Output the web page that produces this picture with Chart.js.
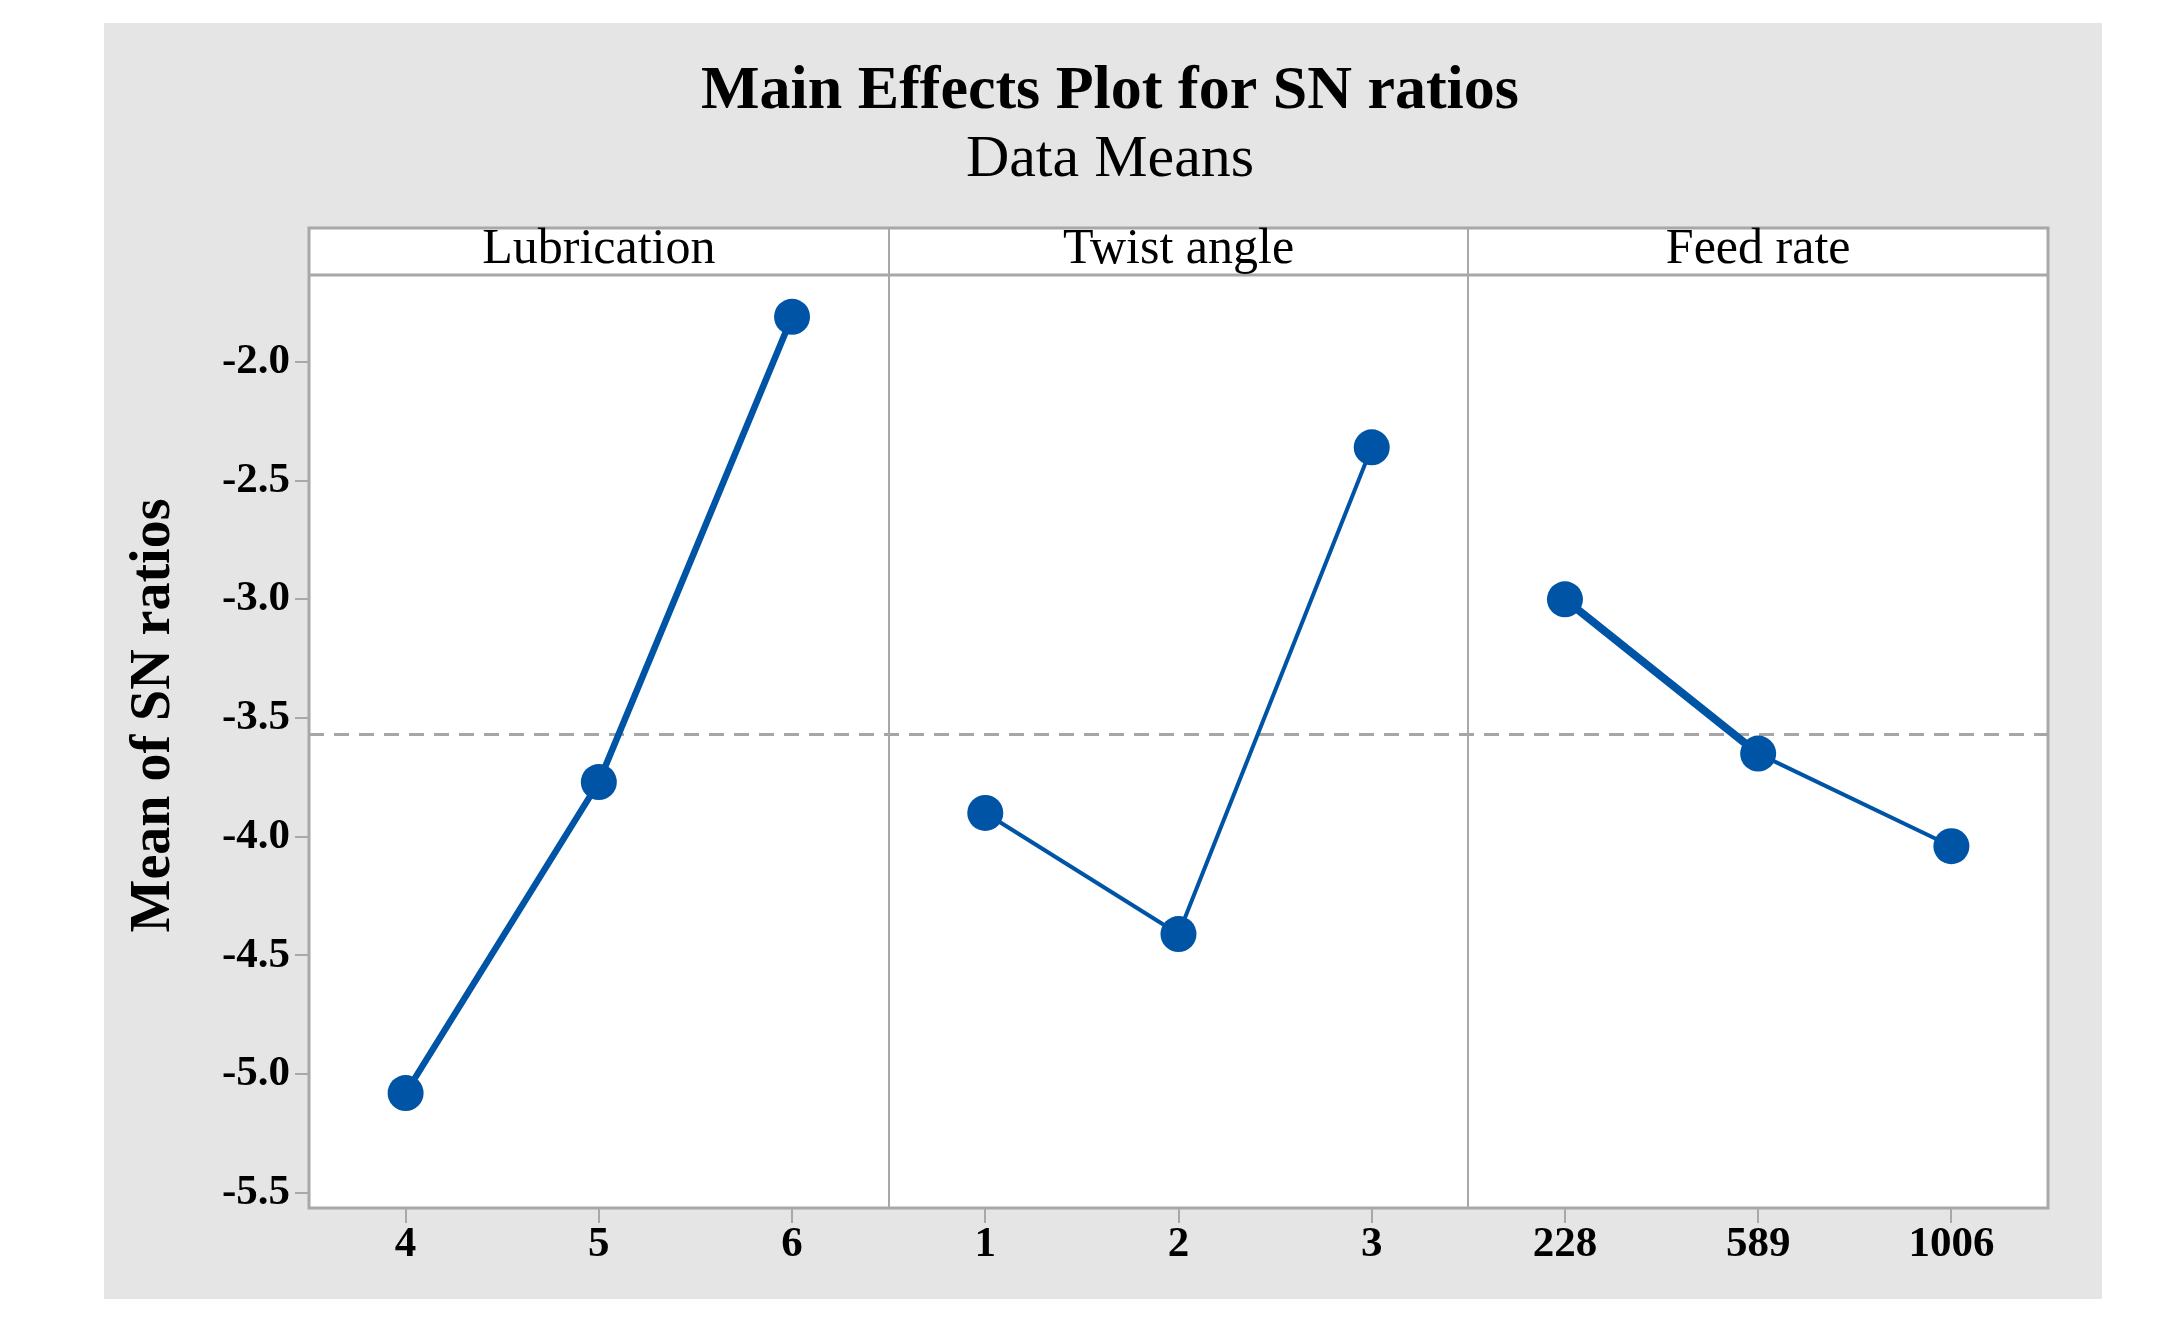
<!DOCTYPE html>
<html><head><meta charset="utf-8">
<script src="https://cdn.jsdelivr.net/npm/chart.js@4/dist/chart.umd.min.js"></script>
<style>html,body{margin:0;padding:0;background:#fff;overflow:hidden}canvas{display:block}</style>
</head><body>
<canvas id="c" width="2169" height="1335"></canvas>
<script>
const chartTitle = 'Main Effects Plot for SN ratios';
const chartSubtitle = 'Data Means';
const yAxisTitle = 'Mean of SN ratios';
const factors = ['Lubrication', 'Twist angle', 'Feed rate'];
const lubricationLevels = ['4', '5', '6'];
const twistAngleLevels = ['1', '2', '3'];
const feedRateLevels = ['228', '589', '1006'];
const lubricationMeans = [-5.08, -3.77, -1.81];
const twistAngleMeans = [-3.90, -4.41, -2.36];
const feedRateMeans = [-3.00, -3.65, -4.04];
const grandMean = -3.57;
const yTickValues = [-2.0, -2.5, -3.0, -3.5, -4.0, -4.5, -5.0, -5.5];

const levelSets = [lubricationLevels, twistAngleLevels, feedRateLevels];
const meanSets = [lubricationMeans, twistAngleMeans, feedRateMeans];
const xLabels = levelSets.flat();
const xTickValues = xLabels.map((_, i) => i);
const BLUE = '#0054a6';
const GREY = '#a8a8a8';
const segWidths = [[6.5, 6.5], [4, 4], [8, 4]];
const HEADER_H = 47;

const datasets = meanSets.map((means, p) => ({
  label: factors[p],
  data: means.map((v, i) => ({ x: p * 3 + i, y: v })),
  borderColor: BLUE,
  backgroundColor: BLUE,
  pointBackgroundColor: BLUE,
  pointRadius: 18,
  pointHoverRadius: 18,
  pointBorderWidth: 0,
  borderWidth: segWidths[p][0],
  segment: { borderWidth: ctx => segWidths[p][ctx.p0DataIndex] },
  order: 0
}));
datasets.unshift({
  label: 'Mean',
  data: [{ x: -0.5, y: grandMean }, { x: xLabels.length - 0.5, y: grandMean }],
  borderColor: '#a6a6a6',
  borderWidth: 3,
  borderDash: [15, 10],
  pointRadius: 0,
  order: 1
});

const panelPlugin = {
  id: 'panels',
  beforeDraw(chart) {
    const { ctx, chartArea: a, width, height } = chart;
    ctx.save();
    ctx.fillStyle = '#fff';
    ctx.fillRect(0, 0, width, height);
    ctx.fillStyle = '#e5e5e5';
    ctx.fillRect(104, 23, 1998, 1276);
    ctx.fillStyle = '#fff';
    ctx.fillRect(a.left, a.top - HEADER_H, a.right - a.left, a.bottom - a.top + HEADER_H);
    ctx.restore();
  },
  beforeDatasetsDraw(chart) {
    const { ctx, chartArea: a, scales: { x } } = chart;
    ctx.save();
    ctx.strokeStyle = GREY;
    ctx.lineWidth = 2;
    for (let p = 1; p < factors.length; p++) {
      const px = Math.round(x.getPixelForValue(p * 3 - 0.5));
      ctx.beginPath();
      ctx.moveTo(px, a.top - HEADER_H);
      ctx.lineTo(px, a.bottom);
      ctx.stroke();
    }
    ctx.lineWidth = 3;
    ctx.beginPath();
    ctx.moveTo(a.left, a.top);
    ctx.lineTo(a.right, a.top);
    ctx.stroke();
    ctx.strokeRect(a.left, a.top - HEADER_H, a.right - a.left, a.bottom - a.top + HEADER_H);
    ctx.fillStyle = '#000';
    ctx.font = '50px "Liberation Serif"';
    ctx.textAlign = 'center';
    ctx.textBaseline = 'middle';
    factors.forEach((f, p) => {
      ctx.fillText(f, x.getPixelForValue(p * 3 + 1), a.top - HEADER_H / 2 - 2);
    });
    ctx.restore();
  },
  afterDraw(chart) {
    const { ctx, chartArea: a } = chart;
    ctx.save();
    ctx.translate(155, (a.top + a.bottom) / 2 - 26);
    ctx.rotate(-Math.PI / 2);
    ctx.fillStyle = '#000';
    ctx.font = 'bold 56px "Liberation Serif"';
    ctx.textAlign = 'center';
    ctx.textBaseline = 'middle';
    ctx.fillText(yAxisTitle, 0, 0);
    ctx.restore();
  }
};

new Chart(document.getElementById('c'), {
  type: 'line',
  data: { datasets },
  plugins: [panelPlugin],
  options: {
    responsive: false,
    animation: false,
    devicePixelRatio: 1,
    layout: { padding: { left: 172, right: 121, top: 0, bottom: 0 } },
    plugins: {
      legend: { display: false },
      tooltip: { enabled: false },
      title: {
        display: true, text: chartTitle, color: '#000',
        font: { family: 'Liberation Serif', size: 62, weight: 'bold', lineHeight: 1.0 },
        padding: { top: 61, bottom: 0 }
      },
      subtitle: {
        display: true, text: chartSubtitle, color: '#000',
        font: { family: 'Liberation Serif', size: 60, weight: 'normal', lineHeight: 1.0 },
        padding: { top: 7, bottom: 85 }
      }
    },
    scales: {
      x: {
        type: 'linear',
        min: -0.5,
        max: xLabels.length - 0.5,
        afterBuildTicks: s => { s.ticks = xTickValues.map(v => ({ value: v })); },
        afterFit: s => { s.height = 127; },
        grid: { drawOnChartArea: false, drawTicks: true, tickLength: 15, color: GREY, lineWidth: 2 },
        border: { display: false },
        ticks: {
          autoSkip: false, maxRotation: 0, color: '#000', padding: -4,
          font: { family: 'Liberation Serif', size: 43, weight: 'bold' },
          callback: (v, i) => xLabels[i]
        }
      },
      y: {
        type: 'linear',
        min: -5.564,
        max: -1.634,
        afterBuildTicks: s => { s.ticks = yTickValues.map(v => ({ value: v })); },
        afterFit: s => { s.width = 137; },
        grid: { drawOnChartArea: false, drawTicks: true, tickLength: 14, color: GREY, lineWidth: 2 },
        border: { display: false },
        ticks: {
          color: '#000', padding: 5,
          font: { family: 'Liberation Serif', size: 43, weight: 'bold' },
          callback: v => Number(v).toFixed(1)
        },
        title: { display: false }
      }
    }
  }
});
</script>
</body></html>
